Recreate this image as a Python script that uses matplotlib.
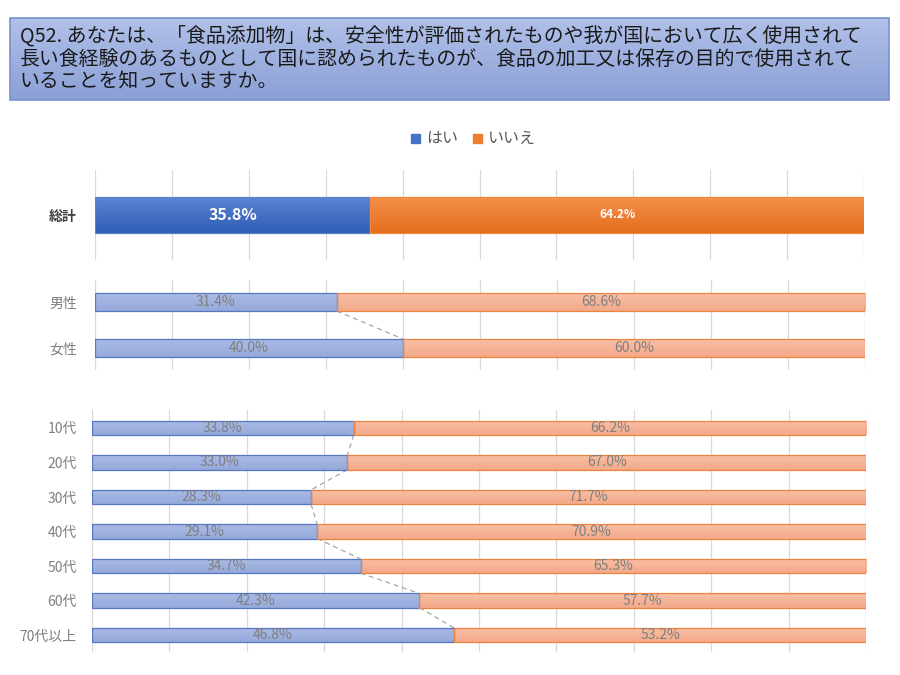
import numpy as np
import matplotlib
matplotlib.use("Agg")
import matplotlib.pyplot as plt
from matplotlib.colors import LinearSegmentedColormap
from matplotlib.patches import Rectangle

plt.rcParams['font.family'] = ['Noto Sans CJK JP', 'DejaVu Sans']

title = ("Q52. あなたは、「食品添加物」は、安全性が評価されたものや我が国において広く使用されて\n"
         "長い食経験のあるものとして国に認められたものが、食品の加工又は保存の目的で使用されて\n"
         "いることを知っていますか。")
series_names = ["はい", "いいえ"]

total_labels = ["総計"]
total_yes = [35.8]
total_no = [64.2]

gender_labels = ["男性", "女性"]
gender_yes = [31.4, 40.0]
gender_no = [68.6, 60.0]

age_labels = ["10代", "20代", "30代", "40代", "50代", "60代", "70代以上"]
age_yes = [33.8, 33.0, 28.3, 29.1, 34.7, 42.3, 46.8]
age_no = [66.2, 67.0, 71.7, 70.9, 65.3, 57.7, 53.2]


def grad_fill(ax, patch, top, bottom):
    # vertical gradient inside a bar, clipped to the bar
    cmap = LinearSegmentedColormap.from_list("g", [top, bottom])
    x0, y0 = patch.get_x(), patch.get_y()
    w, h = patch.get_width(), patch.get_height()
    g = np.linspace(0, 1, 64).reshape(-1, 1)
    im = ax.imshow(g, cmap=cmap, aspect='auto', extent=(x0, x0 + w, y0 + h, y0),
                   origin='upper', zorder=3.1, interpolation='bicubic')
    im.set_clip_path(patch)


def panel(rect, labels, yes, no, h, ylim, strong, label_pad):
    ax = fig.add_axes(rect)
    y = np.arange(len(labels))
    if strong:
        c_yes = ("#5b84d2", "#2e5db6")
        c_no = ("#f4914b", "#e56d1c")
        edge_yes, edge_no = "#5a82cc", "#f08a40"
    else:
        c_yes = ("#aabbe4", "#96a9db")
        c_no = ("#f8c0a6", "#f3a989")
        edge_yes, edge_no = "#5577c2", "#ee8240"
    b1 = ax.barh(y, yes, height=h, color=c_yes[0], linewidth=0, zorder=3)
    b2 = ax.barh(y, no, left=yes, height=h, color=c_no[0], linewidth=0, zorder=3)
    for p in b1:
        grad_fill(ax, p, *c_yes)
    for p in b2:
        grad_fill(ax, p, *c_no)
    # outlines on top of the gradients
    ax.barh(y, yes, height=h, fill=False, edgecolor=edge_yes, linewidth=0.9, zorder=4)
    ax.barh(y, no, left=yes, height=h, fill=False, edgecolor=edge_no, linewidth=0.9, zorder=4)
    # series lines
    for i in range(len(labels) - 1):
        ax.plot([yes[i], yes[i + 1]], [y[i] + h / 2, y[i + 1] - h / 2],
                ls=(0, (4, 3)), color="#a6a6a6", lw=0.9, zorder=2)
        ax.plot([100, 100], [y[i] + h / 2, y[i + 1] - h / 2],
                ls=(0, (4, 3)), color="#a6a6a6", lw=0.9, zorder=2)
    for i in range(len(labels)):
        if strong:
            ax.text(yes[i] / 2, y[i], f"{yes[i]:.1f}%", ha='center', va='center',
                    color='white', fontsize=11.5, fontweight='bold', zorder=5)
            ax.text(yes[i] + no[i] / 2, y[i], f"{no[i]:.1f}%", ha='center', va='center',
                    color='white', fontsize=8.5, fontweight='bold', zorder=5)
        else:
            ax.text(yes[i] / 2, y[i], f"{yes[i]:.1f}%", ha='center', va='center',
                    color='#7f7f7f', fontsize=10, zorder=5)
            ax.text(yes[i] + no[i] / 2, y[i], f"{no[i]:.1f}%", ha='center', va='center',
                    color='#7f7f7f', fontsize=10, zorder=5)
    ax.set_xlim(0, 100)
    ax.set_ylim(*ylim)
    ax.set_xticks(np.arange(0, 101, 10))
    ax.xaxis.grid(True, color="#d9d9d9", lw=0.9, zorder=0)
    ax.set_axisbelow(True)
    ax.tick_params(axis='x', length=0, labelbottom=False)
    ax.tick_params(axis='y', length=0, pad=label_pad)
    ax.set_yticks(y)
    ax.set_yticklabels(labels, fontsize=10)
    for t in ax.get_yticklabels():
        if strong:
            t.set_color("#404040")
            t.set_fontweight('bold')
        else:
            t.set_color("#7f7f7f")
    for s in ax.spines.values():
        s.set_visible(False)
    return ax


fig = plt.figure(figsize=(9, 6.75), dpi=100)

# title box
tax = fig.add_axes([10 / 900, 1 - 100 / 675, 879 / 900, 82 / 675])
tg = np.linspace(0, 1, 64).reshape(-1, 1)
tax.imshow(tg, cmap=LinearSegmentedColormap.from_list("t", ["#b0c0e8", "#8ba0d6"]),
           aspect='auto', extent=(0, 1, 0, 1), origin='upper')
tax.add_patch(Rectangle((0, 0), 1, 1, transform=tax.transAxes, fill=False,
                        edgecolor="#7890cc", lw=1.2, clip_on=False))
tax.set_xlim(0, 1)
tax.set_ylim(0, 1)
tax.axis('off')
fig.text(20 / 900, 1 - 25 / 675, title, ha='left', va='top', fontsize=14.3,
         color='#1a1a1a', linespacing=1.13)

# legend
fig.patches.append(Rectangle((411 / 900, 1 - 143 / 675), 9 / 900, 9 / 675,
                             transform=fig.transFigure, color="#4472c4"))
fig.text(426 / 900, 1 - 138 / 675, series_names[0], ha='left', va='center',
         fontsize=11.5, color='#595959')
fig.patches.append(Rectangle((473 / 900, 1 - 143 / 675), 9 / 900, 9 / 675,
                             transform=fig.transFigure, color="#ed7d31"))
fig.text(488 / 900, 1 - 138 / 675, series_names[1], ha='left', va='center',
         fontsize=11.5, color='#595959')

panel([95 / 900, 1 - 260 / 675, 769 / 900, 90 / 675],
      total_labels, total_yes, total_no, 1.0, (1.25, -1.25), True, 13)
panel([95 / 900, 1 - 370 / 675, 770 / 900, 90 / 675],
      gender_labels, gender_yes, gender_no, 0.39, (1.48, -0.48), False, 13)
panel([92 / 900, 1 - 652 / 675, 774 / 900, 242 / 675],
      age_labels, age_yes, age_no, 0.41, (6.49, -0.52), False, 11)

fig.savefig("out.png", dpi=100)
